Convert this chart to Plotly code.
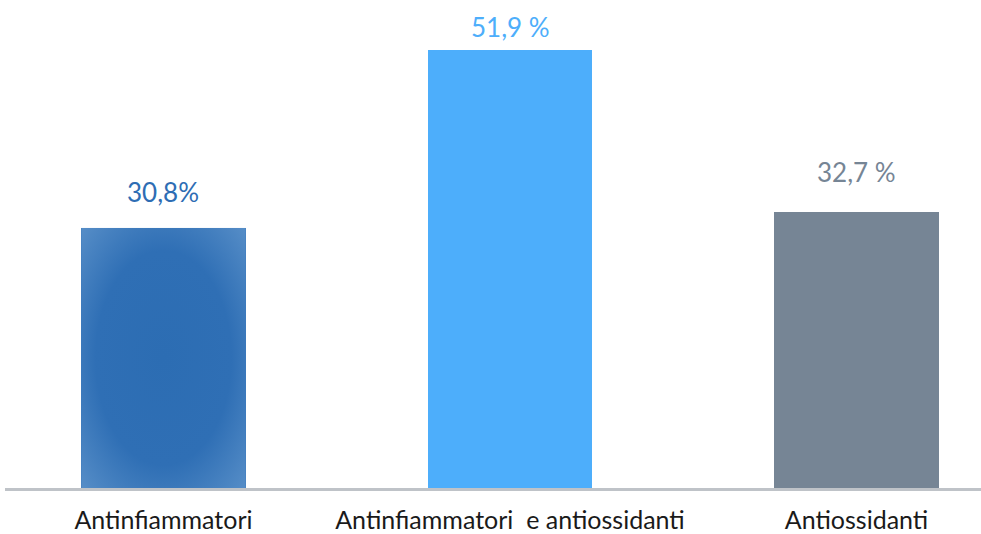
import plotly.graph_objects as go
import urllib.parse

# Data
categories = ["Antinfiammatori", "Antinfiammatori  e antiossidanti", "Antiossidanti"]
values = [30.8, 51.9, 32.7]
value_labels = ["30,8%", "51,9 %", "32,7 %"]
bar_colors = ["#3A78BC", "#4DAEFB", "#768595"]
label_colors = ["#2E6DB4", "#4DAEFB", "#768595"]
label_offsets = [36, 23, 40]  # px above bar top (label centre)

x_pos = list(range(len(categories)))
bar_width = 0.475
font_family = "Lato, 'Open Sans', sans-serif"

fig = go.Figure()
fig.add_trace(go.Bar(
    x=x_pos,
    y=values,
    width=bar_width,
    marker=dict(color=bar_colors, line=dict(width=0)),
    hoverinfo="skip",
))

# Radial shading over the first bar (SVG gradient image stretched over the bar)
svg = (
    "<svg xmlns='http://www.w3.org/2000/svg' width='100' height='100' preserveAspectRatio='none'>"
    "<defs><radialGradient id='g' cx='50%' cy='50%' r='75%'>"
    "<stop offset='0%' stop-color='#2C6DB3'/>"
    "<stop offset='55%' stop-color='#2F6FB5'/>"
    "<stop offset='100%' stop-color='#5C92CA'/>"
    "</radialGradient></defs>"
    "<rect width='100' height='100' fill='url(#g)'/></svg>"
)
src = "data:image/svg+xml;charset=utf-8," + urllib.parse.quote(svg)
fig.add_layout_image(dict(
    source=src, xref="x", yref="y",
    x=x_pos[0] - bar_width / 2, y=values[0],
    sizex=bar_width, sizey=values[0],
    xanchor="left", yanchor="top",
    sizing="stretch", layer="above",
))

for xp, v, lab, col, off in zip(x_pos, values, value_labels, label_colors, label_offsets):
    fig.add_annotation(
        x=xp, y=v, text=lab, showarrow=False,
        yanchor="middle", yshift=off,
        font=dict(family=font_family, size=26, color=col),
    )

fig.update_layout(
    width=981, height=534,
    margin=dict(l=5, r=0, t=23, b=39),
    paper_bgcolor="white", plot_bgcolor="white",
    showlegend=False,
    bargap=0,
    xaxis=dict(
        range=[-0.4574, 2.3593],
        tickmode="array", tickvals=x_pos, ticktext=categories,
        showgrid=False, zeroline=False,
        showline=True, linecolor="#BFC3C8", linewidth=3,
        ticks="", ticklabelstandoff=8,
        tickfont=dict(family=font_family, size=25, color="#1a1a1a"),
    ),
    yaxis=dict(
        range=[0, 55.05], visible=False, showgrid=False, zeroline=False,
    ),
)

fig.write_html("out.html")
